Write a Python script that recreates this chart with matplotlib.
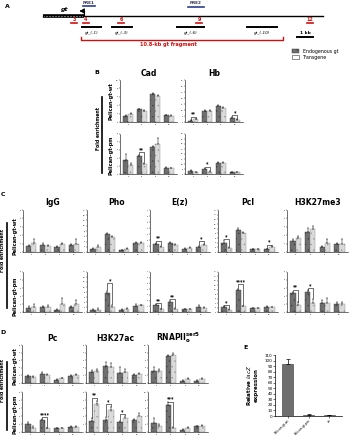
import numpy as np
import matplotlib
matplotlib.use("Agg")
from matplotlib import pyplot as plt
from matplotlib.patches import Rectangle

W, H = 353, 440

# ---------------- data ----------------
groups = ["4", "6", "9", "12"]

# panel B
cad_wt_endo = [1.4, 3.0, 6.6, 1.6]; cad_wt_tg = [1.9, 2.7, 6.1, 1.4]
cad_wt_endo_err = [0.2, 0.2, 0.3, 0.15]; cad_wt_tg_err = [0.15, 0.15, 0.3, 0.15]
hb_wt_endo = [1.0, 9.5, 13.3, 3.5]; hb_wt_tg = [2.1, 9.1, 11.5, 1.8]
hb_wt_endo_err = [0.3, 0.7, 0.6, 0.5]; hb_wt_tg_err = [0.3, 0.5, 0.6, 0.3]
cad_pm_endo = [1.8, 2.25, 3.4, 0.75]; cad_pm_tg = [1.1, 1.25, 3.75, 0.7]
cad_pm_endo_err = [0.75, 0.15, 0.15, 0.1]; cad_pm_tg_err = [0.3, 0.1, 0.75, 0.05]
hb_pm_endo = [3.2, 4.8, 10.8, 1.6]; hb_pm_tg = [2.0, 2.4, 10.8, 1.6]
hb_pm_endo_err = [0.6, 1.0, 0.8, 0.3]; hb_pm_tg_err = [0.4, 0.4, 0.8, 0.3]

# panel C
igg_wt_endo = [0.7, 0.8, 0.6, 0.8]; igg_wt_tg = [1.1, 0.7, 0.9, 1.0]
igg_wt_endo_err = [0.15, 0.25, 0.1, 0.15]; igg_wt_tg_err = [0.5, 0.15, 0.2, 0.5]
igg_pm_endo = [0.5, 0.6, 0.3, 0.65]; igg_pm_tg = [0.6, 0.65, 1.0, 1.0]
igg_pm_endo_err = [0.2, 0.2, 0.1, 0.1]; igg_pm_tg_err = [0.4, 0.2, 0.75, 0.5]
pho_wt_endo = [1.3, 7.0, 0.6, 3.5]; pho_wt_tg = [1.9, 5.8, 1.3, 3.5]
pho_wt_endo_err = [0.4, 0.3, 0.1, 0.3]; pho_wt_tg_err = [0.9, 0.3, 0.2, 0.4]
pho_pm_endo = [1.0, 7.7, 0.8, 2.6]; pho_pm_tg = [1.0, 1.9, 1.3, 2.7]
pho_pm_endo_err = [0.1, 0.6, 0.4, 0.5]; pho_pm_tg_err = [0.6, 0.9, 0.2, 0.2]
ez_wt_endo = [1.4, 1.55, 0.55, 0.85]; ez_wt_tg = [0.85, 1.25, 0.7, 1.25]
ez_wt_endo_err = [0.1, 0.1, 0.05, 0.1]; ez_wt_tg_err = [0.1, 0.05, 0.1, 0.15]
ez_pm_endo = [1.25, 1.8, 0.55, 0.9]; ez_pm_tg = [0.55, 0.55, 0.5, 0.75]
ez_pm_endo_err = [0.1, 0.3, 0.05, 0.25]; ez_pm_tg_err = [0.05, 0.1, 0.05, 0.05]
pcl_wt_endo = [4.0, 9.4, 1.1, 1.2]; pcl_wt_tg = [1.8, 8.3, 1.1, 2.2]
pcl_wt_endo_err = [1.0, 0.7, 0.2, 0.2]; pcl_wt_tg_err = [0.3, 0.2, 0.2, 0.3]
pcl_pm_endo = [2.2, 9.9, 1.8, 2.2]; pcl_pm_tg = [1.1, 2.5, 1.8, 2.1]
pcl_pm_endo_err = [0.3, 0.4, 0.2, 0.3]; pcl_pm_tg_err = [0.3, 0.2, 0.2, 0.2]
k27me3_wt_endo = [1.3, 2.4, 0.6, 0.9]; k27me3_wt_tg = [1.7, 2.7, 1.1, 1.0]
k27me3_wt_endo_err = [0.3, 0.4, 0.1, 0.2]; k27me3_wt_tg_err = [0.2, 0.4, 0.5, 0.6]
k27me3_pm_endo = [2.35, 2.5, 1.1, 1.0]; k27me3_pm_tg = [0.9, 1.1, 1.1, 1.05]
k27me3_pm_endo_err = [0.15, 0.2, 0.4, 0.3]; k27me3_pm_tg_err = [0.3, 0.5, 0.6, 0.2]

# panel D
pc_wt_endo = [0.9, 1.2, 0.4, 0.9]; pc_wt_tg = [0.8, 1.1, 0.6, 1.0]
pc_wt_endo_err = [0.1, 0.2, 0.1, 0.1]; pc_wt_tg_err = [0.1, 0.15, 0.1, 0.25]
pc_pm_endo = [1.0, 1.5, 0.5, 0.6]; pc_pm_tg = [0.45, 0.45, 0.45, 0.6]
pc_pm_endo_err = [0.2, 0.1, 0.05, 0.2]; pc_pm_tg_err = [0.3, 0.05, 0.05, 0.15]
k27ac_wt_endo = [1.5, 2.25, 1.3, 1.0]; k27ac_wt_tg = [1.6, 2.1, 1.5, 1.2]
k27ac_wt_endo_err = [0.2, 0.5, 0.8, 0.2]; k27ac_wt_tg_err = [0.3, 0.5, 0.3, 0.1]
k27ac_pm_endo = [1.4, 1.45, 1.3, 1.5]; k27ac_pm_tg = [3.5, 2.75, 1.8, 2.0]
k27ac_pm_endo_err = [0.3, 0.4, 0.1, 0.1]; k27ac_pm_tg_err = [0.4, 0.4, 0.25, 0.35]
pol_wt_endo = [3.2, 7.2, 0.6, 0.6]; pol_wt_tg = [3.2, 7.4, 1.0, 1.0]
pol_wt_endo_err = [1.0, 0.2, 0.1, 0.1]; pol_wt_tg_err = [0.6, 0.4, 0.2, 0.2]
pol_pm_endo = [2.2, 6.8, 0.5, 1.4]; pol_pm_tg = [1.6, 1.0, 1.0, 1.4]
pol_pm_endo_err = [1.4, 0.6, 0.2, 0.2]; pol_pm_tg_err = [0.4, 0.3, 0.3, 0.3]

# panel E
lacz_lines = ["Pelican-gt-wt", "Pelican-gt-pm", "wt"]
lacz_expr = [93, 2, 1]
lacz_err = [10, 1, 0.5]

# panel A map features (x in figure px along the map)
amp_names = ["gt_(-1)", "gt_(-3)", "gt_(-6)", "gt_(-10)"]
amp_start = [82, 112, 177, 247]
amp_end = [101, 132, 204, 277]
primer_names = ["3", "4", "6", "9", "12"]
primer_pos = [74, 86, 121, 199, 310]

DARK = "#6f6f6f"
LIGHT = "#dadada"
TITLE_FS = 5.5
plt.rcParams["hatch.linewidth"] = 0.2
plt.rcParams["font.family"] = "DejaVu Sans"

fig = plt.figure(figsize=(W / 100, H / 100), dpi=100)


def rect(x0, y0, x1, y1):
    return [x0 / W, 1 - y1 / H, (x1 - x0) / W, (y1 - y0) / H]


def ftext(x, y, s, **kw):
    fig.text(x / W, 1 - y / H, s, **kw)


def chip(box, ymax, step, endo, tg, endo_err, tg_err, sig=()):
    ax = fig.add_axes(rect(*box))
    x = np.arange(len(endo))
    w = 0.36
    ax.bar(x - w / 2, endo, w, color=DARK, edgecolor="#3a3a3a", linewidth=0.3, hatch="...",
           yerr=[np.zeros(len(endo)), endo_err], error_kw=dict(lw=0.35, capsize=0.8, capthick=0.35))
    ax.bar(x + w / 2, tg, w, color=LIGHT, edgecolor="#8a8a8a", linewidth=0.3, hatch="...",
           yerr=[np.zeros(len(tg)), tg_err], error_kw=dict(lw=0.35, capsize=0.8, capthick=0.35))
    for g, h, star in sig:
        a = endo[g] + endo_err[g] + ymax * 0.02
        b = tg[g] + tg_err[g] + ymax * 0.02
        ax.plot([g - w / 2, g - w / 2, g + w / 2, g + w / 2], [a, h, h, b], color="k", lw=0.4)
        ax.text(g, h + ymax * 0.005, star, ha="center", va="bottom", fontsize=3.4, fontweight="bold")
    ax.set_xlim(-0.6, len(endo) - 0.4)
    ax.set_ylim(0, ymax)
    ax.set_yticks(np.arange(0, ymax + 0.01, step))
    ax.set_xticks(x)
    ax.set_xticklabels(groups)
    for s in ["top", "right"]:
        ax.spines[s].set_visible(False)
    for s in ["left", "bottom"]:
        ax.spines[s].set_linewidth(0.4)
    ax.tick_params(length=1, width=0.3, labelsize=1.4, pad=0.5)
    return ax


def row_labels(xrow, xfold, xline, top_c, bot_c, fold_c, line_span):
    ftext(xrow, top_c, "Pelican-gt-wt", rotation=90, ha="center", va="center", fontsize=3.6, fontweight="bold")
    ftext(xrow, bot_c, "Pelican-gt-pm", rotation=90, ha="center", va="center", fontsize=3.6, fontweight="bold")
    ftext(xfold, fold_c, "Fold enrichment", rotation=90, ha="center", va="center", fontsize=3.3, fontweight="bold")
    fig.add_artist(plt.Line2D([xline / W, xline / W], [1 - line_span[0] / H, 1 - line_span[1] / H],
                              color="k", lw=1.2))


# ---------------- panel A ----------------
axA = fig.add_axes([0, 1 - 50 / H, 1, 50 / H])
axA.set_xlim(0, W)
axA.set_ylim(50, 0)
axA.axis("off")
axA.plot([43, 323], [16, 16], color="k", lw=1.0)
axA.plot([43, 84], [16, 16], color="k", lw=2.6, solid_capstyle="butt")
axA.plot([44, 83], [16, 16], color="w", lw=0.6, ls=(0, (0.6, 1.2)))
axA.text(65, 11, "gt", fontsize=4.5, style="italic", fontweight="bold", ha="center")
axA.plot([84, 84], [16, 11], color="k", lw=0.8)
axA.annotate("", xy=(77, 11), xytext=(84.4, 11),
             arrowprops=dict(arrowstyle="-|>,head_length=0.25,head_width=0.15", color="k", lw=0.8))
axA.text(89, 2.5, "PRE1", fontsize=3, fontweight="bold", ha="center", va="center", color="#333355")
axA.plot([83, 95], [6, 6], color="#2b3f8c", lw=1.2)
axA.text(196, 3.5, "PRE2", fontsize=3, fontweight="bold", ha="center", va="center", color="#333355")
axA.plot([188, 204], [7.5, 7.5], color="#2b3f8c", lw=1.2)
for name, p in zip(primer_names, primer_pos):
    axA.text(p, 19.5, name, color="#d01010", fontsize=3.5, fontweight="bold", ha="center", va="center")
    axA.plot([p - 3, p + 3], [23, 23], color="#d01010", lw=1.2)
for name, a, b in zip(amp_names, amp_start, amp_end):
    axA.plot([a, b], [27, 27], color="k", lw=1.4)
    axA.text((a + b) / 2, 33, name, fontsize=3, style="italic", ha="center", va="center")
axA.plot([297, 313], [36.7, 36.7], color="k", lw=1.4)
axA.text(305, 32.5, "1 kb", fontsize=3.2, fontweight="bold", ha="center", va="center")
axA.plot([81, 81, 283, 283], [37.5, 40.5, 40.5, 37.5], color="#d01010", lw=1.0)
axA.text(168, 44.5, "10.8-kb gt fragment", color="#d01010", fontsize=3.6, fontweight="bold",
         ha="center", va="center")
ftext(7, 6, "A", fontsize=4.5, fontweight="bold", ha="center", va="center")

# legend
fig.add_artist(Rectangle(((292) / W, 1 - 53 / H), 7 / W, 3.5 / H, facecolor=DARK,
                         edgecolor="#333333", lw=0.3, hatch="...", transform=fig.transFigure))
fig.add_artist(Rectangle(((292) / W, 1 - 59 / H), 7 / W, 3.5 / H, facecolor="white",
                         edgecolor="#333333", lw=0.4, transform=fig.transFigure))
ftext(303, 51, "Endogenous gt", fontsize=3.4, va="center")
ftext(303, 57, "Transgene", fontsize=3.4, va="center")

# ---------------- panel B ----------------
ftext(97, 72, "B", fontsize=4.5, fontweight="bold", ha="center", va="center")
ftext(149, 74, "Cad", fontsize=TITLE_FS, fontweight="bold", ha="center", va="center")
ftext(214, 74, "Hb", fontsize=TITLE_FS, fontweight="bold", ha="center", va="center")
chip((120, 80, 177, 122), 10, 2, cad_wt_endo, cad_wt_tg, cad_wt_endo_err, cad_wt_tg_err)
chip((185, 80, 243, 122), 35, 5, hb_wt_endo, hb_wt_tg, hb_wt_endo_err, hb_wt_tg_err,
     sig=[(0, 4.5, "**"), (3, 5.5, "*")])
chip((120, 134, 177, 174), 5, 1, cad_pm_endo, cad_pm_tg, cad_pm_endo_err, cad_pm_tg_err,
     sig=[(1, 2.75, "**")])
chip((185, 134, 243, 174), 40, 5, hb_pm_endo, hb_pm_tg, hb_pm_endo_err, hb_pm_tg_err,
     sig=[(1, 7.5, "*")])
row_labels(111, 98, 102, 101, 155, 128, (97, 173))

# ---------------- panel C ----------------
ftext(3, 195, "C", fontsize=4.5, fontweight="bold", ha="center", va="center")
c_cols = [(23, 82), (87, 147), (150, 210), (218, 278), (287, 348)]
c_titles = ["IgG", "Pho", "E(z)", "Pcl", "H3K27me3"]
for (a, b), t in zip(c_cols, c_titles):
    ftext((a + b) / 2, 202, t, fontsize=TITLE_FS, fontweight="bold", ha="center", va="center")
top, bot = (210, 252), (272, 312)
chip((23, top[0], 82, top[1]), 5, 1, igg_wt_endo, igg_wt_tg, igg_wt_endo_err, igg_wt_tg_err)
chip((23, bot[0], 82, bot[1]), 5, 1, igg_pm_endo, igg_pm_tg, igg_pm_endo_err, igg_pm_tg_err)
chip((87, top[0], 147, top[1]), 16, 2, pho_wt_endo, pho_wt_tg, pho_wt_endo_err, pho_wt_tg_err)
chip((87, bot[0], 147, bot[1]), 16, 2, pho_pm_endo, pho_pm_tg, pho_pm_endo_err, pho_pm_tg_err,
     sig=[(1, 11.5, "*")])
chip((150, top[0], 210, top[1]), 7, 1, ez_wt_endo, ez_wt_tg, ez_wt_endo_err, ez_wt_tg_err,
     sig=[(0, 1.9, "**"), (3, 1.8, "*")])
chip((150, bot[0], 210, bot[1]), 7, 1, ez_pm_endo, ez_pm_tg, ez_pm_endo_err, ez_pm_tg_err,
     sig=[(0, 1.6, "**"), (1, 2.3, "**")])
chip((218, top[0], 278, top[1]), 18, 2, pcl_wt_endo, pcl_wt_tg, pcl_wt_endo_err, pcl_wt_tg_err,
     sig=[(0, 5.6, "*"), (3, 3.2, "*")])
chip((218, bot[0], 278, bot[1]), 18, 2, pcl_pm_endo, pcl_pm_tg, pcl_pm_endo_err, pcl_pm_tg_err,
     sig=[(0, 3.2, "*"), (1, 12.6, "****")])
chip((287, top[0], 348, top[1]), 5, 1, k27me3_wt_endo, k27me3_wt_tg, k27me3_wt_endo_err, k27me3_wt_tg_err)
chip((287, bot[0], 348, bot[1]), 5, 1, k27me3_pm_endo, k27me3_pm_tg, k27me3_pm_endo_err, k27me3_pm_tg_err,
     sig=[(0, 2.8, "**"), (1, 3.0, "*")])
row_labels(15, 3, 7, 236, 296, 250, (223, 308))

# ---------------- panel D ----------------
ftext(3, 332, "D", fontsize=4.5, fontweight="bold", ha="center", va="center")
d_cols = [(22, 82), (86, 145), (148, 208)]
d_titles = ["Pc", "H3K27ac", r"RNAPII$_{\bf o}^{\bf ser5}$"]
for (a, b), t in zip(d_cols, d_titles):
    ftext((a + b) / 2, 338, t, fontsize=TITLE_FS, fontweight="bold", ha="center", va="center")
top, bot = (345, 383), (392, 432)
chip((22, top[0], 82, top[1]), 5, 1, pc_wt_endo, pc_wt_tg, pc_wt_endo_err, pc_wt_tg_err)
chip((22, bot[0], 82, bot[1]), 5, 1, pc_pm_endo, pc_pm_tg, pc_pm_endo_err, pc_pm_tg_err,
     sig=[(1, 1.85, "****")])
chip((86, top[0], 145, top[1]), 5, 1, k27ac_wt_endo, k27ac_wt_tg, k27ac_wt_endo_err, k27ac_wt_tg_err)
chip((86, bot[0], 145, bot[1]), 5, 1, k27ac_pm_endo, k27ac_pm_tg, k27ac_pm_endo_err, k27ac_pm_tg_err,
     sig=[(0, 4.3, "**"), (1, 3.5, "*"), (2, 2.25, "*")])
chip((148, top[0], 208, top[1]), 10, 2, pol_wt_endo, pol_wt_tg, pol_wt_endo_err, pol_wt_tg_err)
chip((148, bot[0], 208, bot[1]), 10, 2, pol_pm_endo, pol_pm_tg, pol_pm_endo_err, pol_pm_tg_err,
     sig=[(1, 7.6, "***")])
row_labels(15, 3, 7, 366, 414, 380, (362, 430))

# ---------------- panel E ----------------
ftext(246, 347, "E", fontsize=4.5, fontweight="bold", ha="center", va="center")
axE = fig.add_axes(rect(275, 355, 342, 416))
xe = np.arange(len(lacz_lines))
axE.bar(xe, lacz_expr, 0.55, color=DARK, edgecolor="#333333", linewidth=0.4,
        yerr=[np.zeros(3), lacz_err], error_kw=dict(lw=0.5, capsize=1.5, capthick=0.5))
axE.set_xlim(-0.6, 2.6)
axE.set_ylim(0, 110)
axE.set_yticks(np.arange(0, 111, 10))
axE.set_xticks(xe)
axE.set_xticklabels(lacz_lines, rotation=45, ha="right", rotation_mode="anchor")
for s in ["top", "right"]:
    axE.spines[s].set_visible(False)
for s in ["left", "bottom"]:
    axE.spines[s].set_linewidth(0.5)
axE.tick_params(axis="y", length=1.2, width=0.4, labelsize=3, pad=0.6)
axE.tick_params(axis="x", length=1.2, width=0.4, labelsize=2.2, pad=0.6)
axE.set_ylabel("Relative $\\it{lacZ}$\nexpression", fontsize=4, fontweight="bold", labelpad=4)

fig.savefig("out.png", dpi=100)
